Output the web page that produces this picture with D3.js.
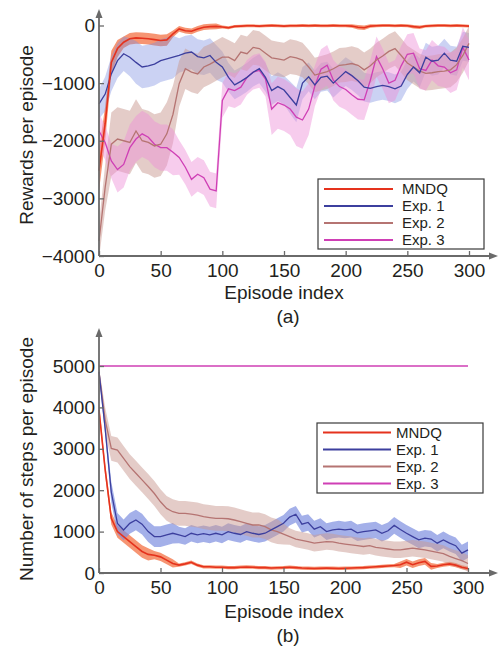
<!DOCTYPE html>
<html>
<head>
<meta charset="utf-8">
<script src="https://cdnjs.cloudflare.com/ajax/libs/d3/7.8.5/d3.min.js"></script>
<style>
  body { margin: 0; background: #fff; }
  svg { display: block; font-family: "Liberation Sans", Arial, sans-serif; }
</style>
</head>
<body>
<div id="chart"></div>
<script>
//--------------------------------------------------
// Data (one value every 5 episodes)
//--------------------------------------------------
var episodes = d3.range(0, 301, 5);
var seriesNames = ['MNDQ', 'Exp. 1', 'Exp. 2', 'Exp. 3'];
var xTicks = [0, 50, 100, 150, 200, 250, 300];

// (a) rewards per episode
var rewardTicks = [0, -1000, -2000, -3000, -4000];
var mndqReward = [-2520, -1700, -640, -400, -290, -230, -215, -220, -230, -245, -260, -250, -145, -60, -90, -100,
  -60, -30, -20, -15, -25, -40, -15, -10, -5, -5, -10, -5, 0, -5, -10, -5, -5, 0, -5, 0, -5, -5, 0, -5, -5,
  -10, -30, -40, -10, -5, 0, 0, -5, 0, -5, -20, -30, -10, -5, 0, 0, -5, 0, -5, -10];
var mndqRewardSpread = [350, 300, 200, 150, 100, 100, 100, 100, 100, 100, 100, 100, 60, 50, 50, 50, 50, 50, 50, 50,
  25, 25, 25, 25, 25, 25, 25, 25, 25, 25, 25, 25, 25, 25, 25, 25, 25, 25, 25, 25, 25, 30, 40, 40, 30, 25, 25, 25, 25,
  25, 25, 30, 30, 25, 25, 25, 25, 25, 25, 25, 25];
var exp1Reward = [-1360, -1190, -840, -610, -490, -550, -640, -720, -700, -670, -610, -580, -550, -520, -480, -460,
  -540, -560, -520, -640, -720, -900, -1030, -970, -900, -810, -750, -900, -1130, -1060, -1120, -1250, -1380, -1000,
  -890, -1030, -900, -880, -1000, -900, -800, -870, -960, -1070, -1090, -1060, -1040, -1060, -1100, -1050, -850, -720,
  -820, -550, -620, -600, -480, -600, -620, -360, -380];
var exp1RewardSpread = [260, 300, 300, 300, 300, 330, 370, 370, 370, 370, 370, 370, 370, 300, 300, 300, 300, 300, 300,
  300, 270, 250, 250, 250, 250, 250, 250, 250, 250, 250, 250, 280, 300, 280, 250, 250, 250, 250, 250, 250, 250, 250,
  250, 250, 250, 250, 250, 250, 250, 250, 250, 250, 250, 250, 250, 250, 250, 250, 250, 250, 250];
var exp2Reward = [-3740, -2810, -2060, -1970, -2000, -2030, -1830, -2000, -2030, -2090, -2060, -1880, -1540, -1010,
  -750, -810, -840, -720, -670, -610, -550, -550, -610, -460, -490, -380, -400, -480, -560, -580, -600, -540, -560,
  -600, -720, -860, -830, -800, -750, -690, -680, -660, -690, -770, -700, -600, -530, -450, -400, -520, -650, -720,
  -790, -830, -820, -800, -790, -770, -680, -520, -310];
var exp2RewardSpread = [300, 400, 550, 550, 550, 550, 550, 550, 550, 550, 550, 550, 500, 400, 350, 350, 350, 350, 350,
  350, 350, 300, 300, 300, 300, 300, 300, 300, 300, 300, 300, 300, 300, 300, 300, 300, 300, 300, 300, 300, 300, 300,
  300, 300, 300, 300, 300, 300, 300, 300, 300, 300, 300, 300, 300, 300, 300, 300, 300, 300, 300];
var exp3Reward = [-1830, -2030, -2350, -2500, -2410, -2120, -1970, -1880, -1940, -2060, -2120, -2120, -2200, -2290,
  -2460, -2670, -2580, -2640, -2840, -2870, -1300, -1100, -1130, -1070, -900, -810, -780, -930, -1450, -1340, -1380,
  -1450, -1590, -1640, -1450, -1050, -760, -690, -950, -1060, -1110, -1200, -1280, -1290, -950, -540, -750, -1000,
  -950, -700, -500, -480, -750, -780, -600, -700, -720, -820, -770, -380, -600];
var exp3RewardSpread = [300, 300, 300, 400, 400, 400, 400, 400, 400, 400, 400, 400, 400, 300, 300, 300, 300, 300, 300,
  300, 300, 300, 300, 300, 300, 300, 300, 300, 450, 450, 450, 450, 500, 500, 450, 350, 350, 350, 350, 350, 350, 350,
  350, 350, 350, 350, 350, 350, 350, 350, 350, 350, 350, 350, 350, 350, 350, 350, 350, 350, 350];

// (b) number of steps per episode
var stepTicks = [0, 1000, 2000, 3000, 4000, 5000];
var mndqSteps = [3940, 2500, 1320, 1000, 880, 760, 640, 520, 450, 430, 390, 310, 230, 190, 220, 260, 190, 150, 150,
  140, 140, 130, 130, 140, 145, 140, 130, 130, 120, 125, 130, 140, 130, 120, 115, 110, 115, 120, 115, 110, 115, 120,
  125, 130, 140, 150, 160, 170, 180, 200, 260, 200, 250, 280, 160, 170, 200, 220, 190, 140, 110];
var mndqStepsSpread = [150, 150, 150, 150, 150, 150, 150, 150, 150, 100, 100, 100, 100, 40, 40, 40, 40, 40, 40, 40, 40,
  40, 40, 40, 40, 40, 40, 40, 40, 40, 40, 40, 40, 40, 40, 40, 40, 40, 40, 40, 40, 40, 40, 40, 40, 40, 40, 40, 40, 80,
  80, 80, 80, 80, 80, 50, 50, 50, 50, 50, 50];
var exp1Steps = [4860, 3490, 1950, 1200, 1040, 1200, 1280, 1180, 1000, 880, 880, 920, 960, 920, 880, 960, 920, 950,
  920, 960, 920, 1000, 960, 930, 1000, 960, 930, 960, 1040, 1120, 1200, 1350, 1420, 1180, 1220, 1060, 1120, 1000,
  1040, 1060, 1040, 1060, 970, 1000, 1020, 1040, 960, 1020, 1150, 1050, 960, 880, 800, 840, 820, 720, 800, 720, 660,
  480, 560];
var exp1StepsSpread = [100, 150, 250, 250, 250, 250, 250, 250, 250, 250, 250, 250, 250, 200, 200, 200, 200, 200, 200,
  200, 200, 200, 200, 200, 200, 200, 200, 200, 200, 200, 200, 200, 200, 200, 200, 200, 200, 200, 200, 200, 200, 200,
  200, 200, 200, 200, 200, 200, 200, 200, 200, 200, 200, 200, 200, 200, 200, 200, 200, 200, 200];
var exp2Steps = [4860, 3700, 3010, 2970, 2770, 2570, 2410, 2250, 2090, 1920, 1720, 1560, 1480, 1440, 1440, 1420, 1400,
  1360, 1340, 1320, 1320, 1310, 1280, 1240, 1200, 1160, 1160, 1120, 1040, 1000, 940, 880, 820, 790, 760, 720, 740,
  760, 750, 720, 700, 680, 660, 640, 660, 620, 600, 580, 560, 560, 580, 600, 580, 560, 530, 500, 470, 400, 350, 300,
  230];
var exp2StepsSpread = [100, 300, 300, 300, 300, 300, 300, 300, 300, 300, 300, 300, 300, 300, 300, 300, 300, 300, 300,
  300, 300, 300, 300, 300, 300, 300, 300, 300, 300, 300, 250, 200, 200, 200, 200, 200, 200, 200, 200, 200, 200, 200,
  200, 200, 200, 200, 200, 200, 200, 200, 200, 200, 200, 200, 200, 200, 200, 200, 200, 200, 200];
var exp3StepEpisodes = [0, 300];
var exp3Steps = [5000, 5000];
var baselineStepEpisodes = [0, 300];
var baselineSteps = [0, 0];

//--------------------------------------------------
// Styles
//--------------------------------------------------
var lineColors = ['#e5321d', '#3c3f9e', '#b57472', '#cf3fb5'];
var bandColors = ['#f47a50', '#7d8ee0', '#c99a92', '#ee8fd6'];
var textColor = '#231f20';
var axisColor = '#6a6a6a';
var fontSize = 19;
var legendFontSize = 15;

var svg = d3.select('#chart').append('svg')
  .attr('width', 500)
  .attr('height', 648);

function toPoints(xs, ys, spread) {
  return xs.map(function(x, i) {
    return { x: x, y: ys[i], s: spread ? spread[i] : 0 };
  });
}

function drawPanel(p) {
  var x = d3.scaleLinear().domain([0, 300]).range(p.xRange);
  var y = d3.scaleLinear().domain(p.yDomain).range(p.yRange);
  var g = svg.append('g');

  var area = d3.area()
    .x(function(d) { return x(d.x); })
    .y0(function(d) { return y(d.y - d.s); })
    .y1(function(d) { return y(d.y + d.s); });
  var line = d3.line()
    .x(function(d) { return x(d.x); })
    .y(function(d) { return y(d.y); });

  // shaded spreads
  p.series.forEach(function(s, i) {
    if (!s.spread) return;
    g.append('path')
      .datum(toPoints(s.xs, s.ys, s.spread))
      .attr('d', area)
      .attr('fill', bandColors[i])
      .attr('fill-opacity', p.bandOpacity[i]);
  });

  // mean lines, MNDQ last so it sits on top
  [3, 2, 1, 0].forEach(function(i) {
    var s = p.series[i];
    g.append('path')
      .datum(toPoints(s.xs, s.ys))
      .attr('d', line)
      .attr('fill', 'none')
      .attr('stroke', lineColors[i])
      .attr('stroke-width', i === 0 ? 1.6 : 1.3);
  });

  if (p.extra) {
    g.append('path')
      .datum(toPoints(p.extra.xs, p.extra.ys))
      .attr('d', line)
      .attr('fill', 'none')
      .attr('stroke', p.extra.color)
      .attr('stroke-width', 1.6);
  }

  // axes with inward ticks
  var fmt = d3.format('d');
  var yAxis = g.append('g')
    .attr('transform', 'translate(' + p.xRange[0] + ',0)')
    .call(d3.axisLeft(y).tickValues(p.yTicks).tickFormat(fmt).tickSizeInner(-5).tickSizeOuter(0).tickPadding(4));
  var xAxis = g.append('g')
    .attr('transform', 'translate(0,' + p.yRange[0] + ')')
    .call(d3.axisBottom(x).tickValues(xTicks).tickFormat(fmt).tickSizeInner(-5).tickSizeOuter(0).tickPadding(7.5));
  [xAxis, yAxis].forEach(function(a) {
    a.select('.domain').remove();
    a.selectAll('line').attr('stroke', axisColor).attr('stroke-width', 1.3);
    a.selectAll('text').style('font-size', fontSize + 'px').attr('fill', textColor);
  });

  var x0 = p.xRange[0], y0 = p.yRange[0];
  g.append('line')
    .attr('x1', x0).attr('x2', x0).attr('y1', y0).attr('y2', p.yArrow + 6)
    .attr('stroke', axisColor).attr('stroke-width', 1.8);
  g.append('line')
    .attr('x1', x0).attr('x2', p.xArrow - 6).attr('y1', y0).attr('y2', y0)
    .attr('stroke', axisColor).attr('stroke-width', 1.8);
  g.append('path')
    .attr('d', 'M' + x0 + ',' + p.yArrow + 'l-3.5,9l7,0z')
    .attr('fill', axisColor);
  g.append('path')
    .attr('d', 'M' + p.xArrow + ',' + y0 + 'l-9,-3.5l0,7z')
    .attr('fill', axisColor);

  // titles
  g.append('text')
    .attr('transform', 'translate(' + p.yTitleX + ',' + p.yTitleY + ') rotate(-90)')
    .attr('text-anchor', 'middle')
    .style('font-size', fontSize + 'px')
    .attr('fill', textColor)
    .text(p.yTitle);
  g.append('text')
    .attr('x', 284).attr('y', p.xTitleY)
    .attr('text-anchor', 'middle')
    .style('font-size', fontSize + 'px')
    .attr('fill', textColor)
    .text('Episode index');
  g.append('text')
    .attr('x', 288).attr('y', p.captionY)
    .attr('text-anchor', 'middle')
    .style('font-size', fontSize + 'px')
    .attr('fill', textColor)
    .text(p.caption);

  // legend
  var lg = g.append('g');
  lg.append('rect')
    .attr('x', p.legend.x).attr('y', p.legend.y)
    .attr('width', p.legend.w).attr('height', p.legend.h)
    .attr('fill', '#fff').attr('stroke', '#3a3a3a').attr('stroke-width', 1.2);
  seriesNames.forEach(function(name, i) {
    var ly = p.legend.rowY + i * p.legend.rowH;
    lg.append('line')
      .attr('x1', p.legend.lineX[0]).attr('x2', p.legend.lineX[1])
      .attr('y1', ly).attr('y2', ly)
      .attr('stroke', lineColors[i]).attr('stroke-width', 2);
    lg.append('text')
      .attr('x', p.legend.textX).attr('y', ly).attr('dy', '0.35em')
      .style('font-size', legendFontSize + 'px')
      .attr('fill', textColor)
      .text(name);
  });
}

drawPanel({
  xRange: [99, 469], yDomain: [-4000, 0], yRange: [256, 25.5], yTicks: rewardTicks,
  yArrow: 9, xArrow: 498,
  yTitle: 'Rewards per episode', yTitleX: 33, yTitleY: 135,
  xTitleY: 299, caption: '(a)', captionY: 323,
  bandOpacity: [0.8, 0.4, 0.5, 0.45],
  series: [
    { xs: episodes, ys: mndqReward, spread: mndqRewardSpread },
    { xs: episodes, ys: exp1Reward, spread: exp1RewardSpread },
    { xs: episodes, ys: exp2Reward, spread: exp2RewardSpread },
    { xs: episodes, ys: exp3Reward, spread: exp3RewardSpread }
  ],
  legend: { x: 318, y: 179, w: 166, h: 70, rowY: 189, rowH: 17, lineX: [324, 393], textX: 402 }
});

drawPanel({
  xRange: [99, 468], yDomain: [0, 5000], yRange: [573, 366], yTicks: stepTicks,
  yArrow: 328, xArrow: 498,
  yTitle: 'Number of steps per episode', yTitleX: 33, yTitleY: 459,
  xTitleY: 618, caption: '(b)', captionY: 642,
  bandOpacity: [0.8, 0.7, 0.5, 0.45],
  series: [
    { xs: episodes, ys: mndqSteps, spread: mndqStepsSpread },
    { xs: episodes, ys: exp1Steps, spread: exp1StepsSpread },
    { xs: episodes, ys: exp2Steps, spread: exp2StepsSpread },
    { xs: exp3StepEpisodes, ys: exp3Steps }
  ],
  extra: { xs: baselineStepEpisodes, ys: baselineSteps, color: '#4f8a6c' },
  legend: { x: 317, y: 423, w: 166, h: 70, rowY: 432.5, rowH: 17, lineX: [323, 391], textX: 396 }
});
</script>
</body>
</html>
